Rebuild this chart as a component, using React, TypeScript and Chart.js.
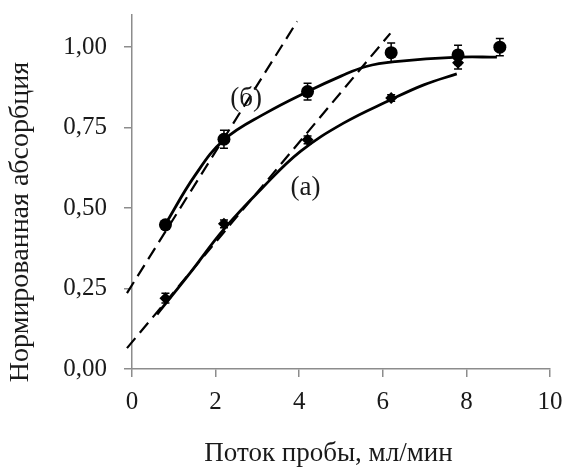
import React, { useEffect, useRef } from "react";
import { Chart, registerables } from "chart.js";

Chart.register(...registerables);

// Measured points, series (б)
const flowB = [0.8, 2.2, 4.2, 6.2, 7.8, 8.8];
const absB = [0.448, 0.714, 0.862, 0.983, 0.976, 1.0];
const errB = [0.012, 0.028, 0.026, 0.03, 0.03, 0.027];

// Measured points, series (а)
const flowA = [0.8, 2.2, 4.2, 6.2, 7.8];
const absA = [0.22, 0.451, 0.712, 0.842, 0.952];
const errA = [0.015, 0.012, 0.012, 0.01, 0.02];

// Fitted curves
const fitBx = [0.8, 1.5, 2.2, 3.2, 4.2, 5.0, 5.6, 6.3, 7.8, 8.73];
const fitBy = [0.45, 0.6, 0.712, 0.795, 0.862, 0.91, 0.94, 0.955, 0.969, 0.969];
const fitAx = [0.6, 1.4, 2.19, 3.15, 4.03, 5.06, 6.18, 6.98, 7.77];
const fitAy = [0.17, 0.3, 0.433, 0.567, 0.676, 0.764, 0.836, 0.883, 0.917];

// Tangent (dashed) lines
const tanBx = [-0.12, 3.95];
const tanBy = [0.236, 1.08];
const tanAx = [-0.12, 6.18];
const tanAy = [0.065, 1.043];

// Curve labels
const labelTexts = ["(б)", "(а)"];
const labelX = [2.73, 4.15];
const labelY = [0.839, 0.563];

// Axis
const xTicks = [0, 2, 4, 6, 8, 10];
const yTicks = [0, 0.25, 0.5, 0.75, 1.0];
const xTitle = "Поток пробы, мл/мин";
const yTitle = "Нормированная абсорбция";

const FONT = "'Liberation Serif', 'Times New Roman', serif";
const TEXT = "#1a1a1a";
const AXIS = "#8c8c8c";

const pts = (xs: number[], ys: number[]) => xs.map((x, i) => ({ x, y: ys[i] }));

export default function App() {
  const ref = useRef<HTMLCanvasElement | null>(null);

  useEffect(() => {
    const canvas = ref.current;
    if (!canvas) return;

    const errorBars = {
      id: "errorBars",
      beforeDatasetsDraw(chart: any) {
        const { ctx, scales } = chart;
        const xs = scales.x;
        const ys = scales.y;
        ctx.save();
        ctx.strokeStyle = "#000";
        ctx.lineWidth = 1.5;
        const draw = (fx: number[], fy: number[], fe: number[]) => {
          fx.forEach((x, i) => {
            const px = xs.getPixelForValue(x);
            const top = ys.getPixelForValue(fy[i] + fe[i]);
            const bot = ys.getPixelForValue(fy[i] - fe[i]);
            ctx.beginPath();
            ctx.moveTo(px, top);
            ctx.lineTo(px, bot);
            ctx.moveTo(px - 4, top);
            ctx.lineTo(px + 4, top);
            ctx.moveTo(px - 4, bot);
            ctx.lineTo(px + 4, bot);
            ctx.stroke();
          });
        };
        draw(flowB, absB, errB);
        draw(flowA, absA, errA);
        ctx.restore();
      },
      afterDraw(chart: any) {
        const { ctx, scales } = chart;
        ctx.save();
        ctx.fillStyle = TEXT;
        ctx.font = `27px ${FONT}`;
        ctx.textAlign = "center";
        ctx.textBaseline = "middle";
        labelTexts.forEach((t, i) => {
          ctx.fillText(t, scales.x.getPixelForValue(labelX[i]), scales.y.getPixelForValue(labelY[i]));
        });
        // x title
        ctx.textBaseline = "alphabetic";
        ctx.fillText(xTitle, 328.5, 461);
        // y title
        ctx.font = `28px ${FONT}`;
        ctx.translate(21, 222);
        ctx.rotate(-Math.PI / 2);
        ctx.textBaseline = "middle";
        ctx.fillText(yTitle, 0, 0);
        ctx.restore();
      },
    };

    const chart = new Chart(canvas, {
      type: "scatter",
      data: {
        datasets: [
          {
            data: pts(tanBx, tanBy),
            showLine: true,
            borderColor: "#000",
            borderWidth: 2.2,
            borderDash: [13, 7],
            pointRadius: 0,
            clip: false,
          } as any,
          {
            data: pts(tanAx, tanAy),
            showLine: true,
            borderColor: "#000",
            borderWidth: 2.2,
            borderDash: [13, 7],
            pointRadius: 0,
            clip: false,
          } as any,
          {
            data: pts(fitBx, fitBy),
            showLine: true,
            borderColor: "#000",
            borderWidth: 2.8,
            tension: 0.4,
            pointRadius: 0,
          },
          {
            data: pts(fitAx, fitAy),
            showLine: true,
            borderColor: "#000",
            borderWidth: 2.8,
            tension: 0.4,
            pointRadius: 0,
          },
          {
            data: pts(flowB, absB),
            pointStyle: "circle",
            pointRadius: 6.5,
            backgroundColor: "#000",
            borderColor: "#000",
            borderWidth: 0,
          },
          {
            data: pts(flowA, absA),
            pointStyle: "rectRot",
            pointRadius: 6,
            backgroundColor: "#000",
            borderColor: "#000",
            borderWidth: 0,
          },
        ],
      },
      options: {
        animation: false,
        responsive: false,
        devicePixelRatio: 1,
        layout: { padding: { top: 15, right: 14, left: 0, bottom: 0 } },
        plugins: {
          legend: { display: false },
          tooltip: { enabled: false },
          title: { display: false },
        },
        scales: {
          x: {
            type: "linear",
            min: 0,
            max: 10,
            afterBuildTicks: (s: any) => {
              s.ticks = xTicks.map((v) => ({ value: v }));
            },
            afterFit: (s: any) => {
              s.height = 98;
              s.paddingLeft = 0;
              s.paddingRight = 0;
            },
            ticks: {
              color: TEXT,
              font: { family: FONT, size: 25 },
              padding: 10,
              maxRotation: 0,
              callback: (v: any) => String(v),
            },
            grid: {
              display: true,
              drawOnChartArea: false,
              drawTicks: true,
              tickLength: 8,
              color: AXIS,
              lineWidth: 1.5,
            },
            border: { display: true, color: AXIS, width: 1.5 },
          },
          y: {
            type: "linear",
            min: 0,
            max: 1.1,
            afterBuildTicks: (s: any) => {
              s.ticks = yTicks.map((v) => ({ value: v }));
            },
            afterFit: (s: any) => {
              s.width = 132;
              s.paddingTop = 0;
              s.paddingBottom = 0;
            },
            ticks: {
              color: TEXT,
              font: { family: FONT, size: 25 },
              padding: 17,
              callback: (v: any) => Number(v).toFixed(2).replace(".", ","),
            },
            grid: {
              display: true,
              drawOnChartArea: false,
              drawTicks: true,
              tickLength: 8,
              color: AXIS,
              lineWidth: 1.5,
            },
            border: { display: true, color: AXIS, width: 1.5 },
          },
        },
      },
      plugins: [errorBars],
    });

    return () => chart.destroy();
  }, []);

  return (
    <canvas
      ref={ref}
      width={564}
      height={467}
      style={{ position: "fixed", left: 0, top: 0, width: 564, height: 467, background: "#fff" }}
    />
  );
}
